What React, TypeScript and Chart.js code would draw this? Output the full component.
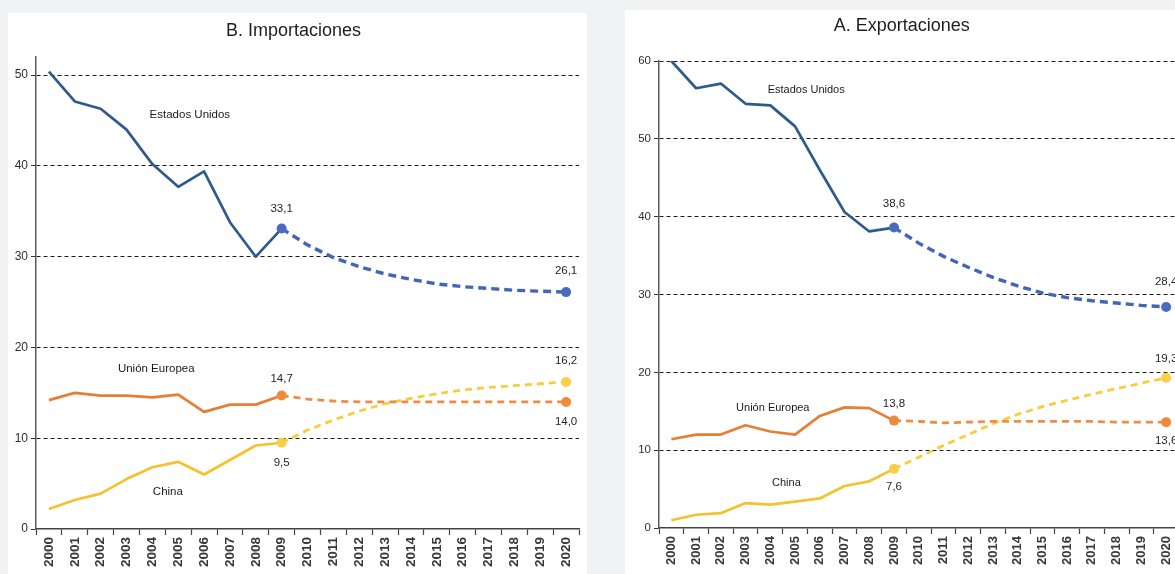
import { useEffect, useRef } from 'react';
import { Chart, registerables } from 'chart.js';

Chart.register(...registerables);

// ---- data -----------------------------------------------------------------
const YEARS = [
  '2000', '2001', '2002', '2003', '2004', '2005', '2006', '2007', '2008', '2009', '2010',
  '2011', '2012', '2013', '2014', '2015', '2016', '2017', '2018', '2019', '2020',
];
const SERIES = ['Estados Unidos', 'Unión Europea', 'China'];

// Importaciones: observed 2000–2009
const impUS = [50.4, 47.1, 46.3, 44.0, 40.2, 37.7, 39.4, 33.8, 30.0, 33.1];
const impUE = [14.2, 15.0, 14.7, 14.7, 14.5, 14.8, 12.9, 13.7, 13.7, 14.7];
const impCN = [2.2, 3.2, 3.9, 5.5, 6.8, 7.4, 6.0, 7.6, 9.2, 9.5];
// Importaciones: projection 2009–2020
const impUSProj = [33.1, 31.3, 29.9, 28.9, 28.1, 27.5, 27.0, 26.7, 26.5, 26.3, 26.2, 26.1];
const impUEProj = [14.7, 14.3, 14.1, 14.0, 14.0, 14.0, 14.0, 14.0, 14.0, 14.0, 14.0, 14.0];
const impCNProj = [9.5, 10.9, 12.0, 13.0, 13.8, 14.4, 14.9, 15.3, 15.6, 15.8, 16.0, 16.2];

// Exportaciones: observed 2000–2009
const expUS = [60.0, 56.5, 57.1, 54.5, 54.3, 51.6, 46.0, 40.6, 38.1, 38.6];
const expUE = [11.4, 12.0, 12.0, 13.2, 12.4, 12.0, 14.4, 15.5, 15.4, 13.8];
const expCN = [1.0, 1.7, 1.9, 3.2, 3.0, 3.4, 3.8, 5.4, 6.0, 7.6];
// Exportaciones: projection 2009–2020
const expUSProj = [38.6, 36.6, 34.9, 33.5, 32.2, 31.1, 30.2, 29.6, 29.2, 28.9, 28.6, 28.4];
const expUEProj = [13.8, 13.7, 13.5, 13.6, 13.7, 13.7, 13.7, 13.7, 13.7, 13.6, 13.6, 13.6];
const expCNProj = [7.6, 9.1, 10.6, 12.0, 13.4, 14.6, 15.6, 16.4, 17.2, 17.9, 18.6, 19.3];

// ---- styling --------------------------------------------------------------
const SANS = "'Liberation Sans', Arial, sans-serif";
const LINE = ['#2c5b8c', '#e67f35', '#f3c22e'];
const PROJ = ['#4365b8', '#ee8d44', '#f7cd3b'];
const DOT = ['#4a6bc0', '#ef8a3d', '#f8cf45'];
const PROJ_DASH = [[8, 5], [7, 5], [7, 5]];

const LAST = YEARS.length - 1;

const observed = (v: number[]) => [...v, ...Array(YEARS.length - v.length).fill(null)];
const projected = (v: number[]) => [...Array(YEARS.length - v.length).fill(null), ...v];
const fmt = (v: number) => v.toFixed(1).replace('.', ',');

type Side = 'above' | 'below';
type PanelSpec = {
  title: string;
  left: number;
  top: number;
  width: number;
  height: number;
  area: { left: number; right: number; titleTop: number; titleBottom: number; xHeight: number };
  yMax: number;
  obs: number[][];
  proj: number[][];
  // side of the value tag at [first projected year, 2020] for each series
  tagSides: [Side, Side][];
  tagGaps: [number, number][];
  // where each series name sits, in (category index, value) units
  nameAt: [number, number][];
  fonts: { title: number; y: number; x: number; tag: number; name: number };
};

const PANELS: PanelSpec[] = [
  {
    title: 'B. Importaciones',
    left: 8,
    top: 13,
    width: 579,
    height: 561,
    area: { left: 28, right: 8, titleTop: 7.5, titleBottom: 14.9, xHeight: 45 },
    yMax: 52,
    obs: [impUS, impUE, impCN],
    proj: [impUSProj, impUEProj, impCNProj],
    tagSides: [['above', 'above'], ['above', 'below'], ['below', 'above']],
    tagGaps: [[20, 21], [17, 20], [20, 21]],
    nameAt: [[5.45, 45.6], [4.15, 17.7], [4.6, 4.1]],
    fonts: { title: 18, y: 12, x: 13.5, tag: 11.5, name: 11.5 },
  },
  {
    title: 'A. Exportaciones',
    left: 625,
    top: 10,
    width: 564,
    height: 564,
    area: { left: 34, right: 10.5, titleTop: 5, titleBottom: 24.4, xHeight: 46 },
    yMax: 60,
    obs: [expUS, expUE, expCN],
    proj: [expUSProj, expUEProj, expCNProj],
    tagSides: [['above', 'above'], ['above', 'below'], ['below', 'above']],
    tagGaps: [[24, 25], [17, 19], [18, 19]],
    nameAt: [[5.45, 56.3], [4.1, 15.4], [4.65, 5.8]],
    fonts: { title: 18, y: 11.5, x: 13, tag: 11.5, name: 11 },
  },
];

function buildConfig(spec: PanelSpec): any {
  const firstProj = YEARS.length - spec.proj[0].length;
  const datasets: any[] = [];
  // projections first so their end markers sit on top of the solid lines
  spec.proj.forEach((p, i) => {
    datasets.push({
      label: SERIES[i] + ' (proyección)',
      data: projected(p),
      borderColor: PROJ[i],
      borderWidth: i === 0 ? 3.4 : 2.8,
      borderDash: PROJ_DASH[i],
      pointRadius: YEARS.map((_, k) => (k === firstProj || k === LAST ? 5 : 0)),
      pointBackgroundColor: DOT[i],
      pointBorderWidth: 0,
      tension: 0,
    });
  });
  spec.obs.forEach((o, i) => {
    datasets.push({
      label: SERIES[i],
      data: observed(o),
      borderColor: LINE[i],
      borderWidth: 2.7,
      borderJoinStyle: 'round',
      pointRadius: 0,
      tension: 0,
    });
  });

  const tags = {
    id: 'seriesTags',
    afterDatasetsDraw(chart: any) {
      const { ctx, scales } = chart;
      ctx.save();
      ctx.textAlign = 'center';
      ctx.textBaseline = 'middle';
      ctx.fillStyle = '#262626';
      ctx.font = `${spec.fonts.tag}px ${SANS}`;
      spec.proj.forEach((_, i) => {
        const meta = chart.getDatasetMeta(i);
        [firstProj, LAST].forEach((idx, j) => {
          const pt = meta.data[idx];
          const v = chart.data.datasets[i].data[idx] as number;
          const gap = spec.tagGaps[i][j];
          const y = spec.tagSides[i][j] === 'above' ? pt.y - gap : pt.y + gap;
          ctx.fillText(fmt(v), pt.x, y);
        });
      });
      ctx.font = `${spec.fonts.name}px ${SANS}`;
      ctx.fillStyle = '#1a1a1a';
      spec.nameAt.forEach(([ix, v], i) => {
        ctx.fillText(SERIES[i], scales.x.getPixelForValue(ix), scales.y.getPixelForValue(v));
      });
      ctx.restore();
    },
  };

  return {
    type: 'line',
    data: { labels: YEARS, datasets },
    plugins: [tags],
    options: {
      animation: false,
      responsive: false,
      devicePixelRatio: 1,
      events: [],
      layout: { padding: { left: 0, right: spec.area.right, top: 0, bottom: 0 } },
      plugins: {
        legend: { display: false },
        tooltip: { enabled: false },
        title: {
          display: true,
          text: spec.title,
          color: '#1e1e1e',
          font: { family: SANS, size: spec.fonts.title, weight: 'normal', lineHeight: 1.2 },
          padding: { top: spec.area.titleTop, bottom: spec.area.titleBottom },
        },
      },
      scales: {
        x: {
          type: 'category',
          offset: true,
          afterFit: (s: any) => {
            s.height = spec.area.xHeight;
          },
          grid: {
            display: true,
            offset: true,
            drawOnChartArea: false,
            drawTicks: true,
            tickLength: 6,
            tickColor: '#444',
            tickWidth: 1.2,
            color: '#444',
          },
          border: { display: true, color: '#444', width: 1.5 },
          ticks: {
            autoSkip: false,
            maxRotation: 90,
            minRotation: 90,
            padding: 2,
            color: '#383838',
            font: { family: SANS, size: spec.fonts.x, weight: 'bold' },
          },
        },
        y: {
          min: 0,
          max: spec.yMax,
          afterFit: (s: any) => {
            s.width = spec.area.left;
          },
          afterBuildTicks: (s: any) => {
            s.ticks = s.ticks.filter((t: any) => t.value % 10 === 0);
          },
          grid: {
            color: (c: any) => (c.tick && c.tick.value === 0 ? 'rgba(0,0,0,0)' : '#1c1c1c'),
            lineWidth: 1,
            tickLength: 5,
            tickColor: '#333',
            tickBorderDash: [],
          },
          border: { display: true, color: '#5a5a5a', width: 1.5, dash: [4, 3] },
          ticks: {
            stepSize: 10,
            padding: 3,
            color: '#2e2e2e',
            font: { family: SANS, size: spec.fonts.y },
          },
        },
      },
    },
  };
}

function Panel({ spec }: { spec: PanelSpec }) {
  const ref = useRef<HTMLCanvasElement>(null);
  useEffect(() => {
    if (!ref.current) return;
    const chart = new Chart(ref.current, buildConfig(spec));
    return () => chart.destroy();
  }, [spec]);
  return (
    <canvas
      ref={ref}
      width={spec.width}
      height={spec.height}
      style={{ position: 'absolute', left: spec.left, top: spec.top, width: spec.width, height: spec.height }}
    />
  );
}

export default function App() {
  return (
    <div
      style={{
        position: 'fixed',
        left: 0,
        top: 0,
        width: 1175,
        height: 574,
        overflow: 'hidden',
        background: '#f1f2f3',
      }}
    >
      <div style={{ position: 'absolute', left: 8, top: 13, width: 579, height: 561, background: '#fff' }} />
      <div style={{ position: 'absolute', left: 625, top: 10, width: 560, height: 564, background: '#fff' }} />
      {PANELS.map((p) => (
        <Panel key={p.title} spec={p} />
      ))}
    </div>
  );
}
